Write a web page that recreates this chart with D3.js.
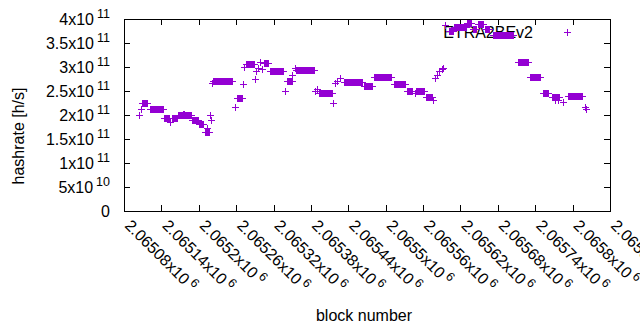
<!DOCTYPE html>
<html>
<head>
<meta charset="utf-8">
<script src="https://cdn.jsdelivr.net/npm/d3@7"></script>
<style>
  body { margin: 0; background: #fff; }
  text { font-family: "Liberation Sans", Arial, sans-serif; fill: #000; }
</style>
</head>
<body>
<svg id="chart"></svg>
<script>
const chartW = 640, chartH = 330;

// runs of blocks sharing one hashrate reading (start block, end block, hashrate)
var runStart = [2065104, 2065107, 2065109, 2065122, 2065144, 2065154, 2065157, 2065167, 2065175, 2065189,
  2065200, 2065210, 2065213, 2065218, 2065219, 2065221, 2065223, 2065258, 2065261, 2065271,
  2065273, 2065276, 2065290, 2065292, 2065295, 2065298, 2065301, 2065305, 2065314, 2065338,
  2065341, 2065350, 2065354, 2065356, 2065387, 2065389, 2065393, 2065416, 2065418, 2065422,
  2065427, 2065433, 2065465, 2065481, 2065513, 2065534, 2065547, 2065548, 2065564, 2065576,
  2065579, 2065582, 2065585, 2065590, 2065592, 2065595, 2065601, 2065609, 2065630, 2065640,
  2065648, 2065659, 2065672, 2065712, 2065731, 2065752, 2065767, 2065772, 2065777, 2065784,
  2065792, 2065820, 2065821];
var runEnd = [2065104, 2065107, 2065117, 2065143, 2065152, 2065154, 2065165, 2065187, 2065177, 2065199,
  2065207, 2065216, 2065214, 2065218, 2065219, 2065221, 2065253, 2065258, 2065269, 2065271,
  2065273, 2065289, 2065290, 2065292, 2065295, 2065298, 2065301, 2065311, 2065335, 2065338,
  2065349, 2065350, 2065354, 2065385, 2065387, 2065389, 2065414, 2065416, 2065418, 2065422,
  2065427, 2065462, 2065478, 2065508, 2065531, 2065542, 2065547, 2065561, 2065574, 2065576,
  2065579, 2065582, 2065585, 2065590, 2065592, 2065595, 2065608, 2065629, 2065637, 2065645,
  2065656, 2065666, 2065704, 2065728, 2065747, 2065760, 2065778, 2065772, 2065777, 2065784,
  2065815, 2065820, 2065821];
var runHashrate = [2.01e11, 2.13e11, 2.26e11, 2.12e11, 1.94e11, 1.85e11, 1.93e11, 2.01e11, 2.03e11, 1.89e11,
  1.82e11, 1.65e11, 1.72e11, 2.01e11, 1.89e11, 2.66e11, 2.70e11, 2.16e11, 2.35e11, 2.64e11,
  2.99e11, 3.06e11, 2.76e11, 2.92e11, 2.97e11, 3.10e11, 2.96e11, 3.08e11, 2.92e11, 2.50e11,
  2.71e11, 2.83e11, 2.98e11, 2.93e11, 2.50e11, 2.55e11, 2.45e11, 2.26e11, 2.66e11, 2.71e11,
  2.78e11, 2.68e11, 2.61e11, 2.79e11, 2.65e11, 2.51e11, 2.45e11, 2.49e11, 2.38e11, 2.31e11,
  2.78e11, 2.84e11, 2.92e11, 2.95e11, 2.97e11, 3.875e11, 3.75e11, 3.84e11, 3.91e11, 3.79e11,
  3.89e11, 3.80e11, 3.67e11, 3.10e11, 2.79e11, 2.45e11, 2.38e11, 2.32e11, 2.32e11, 2.27e11,
  2.40e11, 2.16e11, 2.12e11];

// tick labels (mantissa / exponent)
var xTickMant = ["2.06508", "2.06514", "2.0652", "2.06526", "2.06532", "2.06538", "2.06544",
  "2.0655", "2.06556", "2.06562", "2.06568", "2.06574", "2.0658", "2.06586"];
var xTickExp = "6";
var yTickMant = ["0", "5", "1", "1.5", "2", "2.5", "3", "3.5", "4"];
var yTickExp = ["", "10", "11", "11", "11", "11", "11", "11", "11"];

var seriesName = "ETRA2BEv2";
var color = "#9400d3";

// one point per block
var points = [];
runStart.forEach(function(s, i) {
  for (var b = s; b <= runEnd[i]; b++) points.push({block: b, value: runHashrate[i]});
});

var margin = {top: 19, right: 30, bottom: 119, left: 124},
    width = chartW - margin.left - margin.right,
    height = chartH - margin.top - margin.bottom;

var svg = d3.select("#chart")
  .attr("width", chartW)
  .attr("height", chartH);

var g = svg.append("g")
  .attr("transform", "translate(" + margin.left + "," + margin.top + ")");

var xTicks = xTickMant.map(function(m) { return Math.round(+m * 1e6); });
var yTicks = yTickMant.map(function(m, i) { return yTickExp[i] ? +m * Math.pow(10, +yTickExp[i]) : 0; });

var x = d3.scaleLinear()
  .domain([xTicks[0], xTicks[xTicks.length - 1]])
  .range([0, width]);
var y = d3.scaleLinear()
  .domain([0, 4e11])
  .range([height, 0]);

// ticks, mirrored on all four sides
function ticks(axis) {
  return function(sel) {
    sel.call(axis);
    sel.select(".domain").remove();
    sel.selectAll("line").attr("stroke", "#000").attr("shape-rendering", "crispEdges");
  };
}
g.append("g").attr("transform", "translate(0," + height + ")")
  .call(ticks(d3.axisBottom(x).tickValues(xTicks).tickSize(-6).tickFormat("")));
g.append("g")
  .call(ticks(d3.axisTop(x).tickValues(xTicks).tickSize(-6).tickFormat("")));
g.append("g")
  .call(ticks(d3.axisLeft(y).tickValues(yTicks).tickSize(-6).tickFormat("")));
g.append("g").attr("transform", "translate(" + width + ",0)")
  .call(ticks(d3.axisRight(y).tickValues(yTicks).tickSize(-6).tickFormat("")));

g.append("rect")
  .attr("width", width).attr("height", height)
  .attr("fill", "none").attr("stroke", "#000")
  .attr("shape-rendering", "crispEdges");

// y tick labels
var yl = g.append("g").selectAll("text")
  .data(yTicks)
  .enter().append("text")
    .attr("x", -14)
    .attr("y", function(d) { return y(d) + 5.5; })
    .attr("text-anchor", "end")
    .style("font-size", "16px");
yl.append("tspan").text(function(d, i) { return yTickExp[i] ? yTickMant[i] + "x10" : yTickMant[i]; });
yl.append("tspan")
  .attr("dx", 3).attr("dy", -7)
  .style("font-size", "12.5px")
  .text(function(d, i) { return yTickExp[i]; });

// x tick labels, rotated
var xl = g.append("g").selectAll("text")
  .data(xTicks)
  .enter().append("text")
    .attr("transform", function(d) { return "translate(" + x(d) + "," + (height + 15.5) + ")rotate(45)"; })
    .attr("text-anchor", "start")
    .style("font-size", "16px");
xl.append("tspan").text(function(d, i) { return xTickMant[i] + "x10"; });
xl.append("tspan")
  .attr("dx", 3).attr("dy", -6)
  .style("font-size", "12.5px")
  .text(xTickExp);

// axis titles
svg.append("text")
  .attr("transform", "translate(24,136)rotate(-90)")
  .attr("text-anchor", "middle")
  .style("font-size", "16px")
  .text("hashrate [h/s]");
svg.append("text")
  .attr("x", margin.left + width / 2 - 3)
  .attr("y", 321)
  .attr("text-anchor", "middle")
  .style("font-size", "16px")
  .text("block number");

// key
g.append("text")
  .attr("x", 409).attr("y", 18.5)
  .attr("text-anchor", "end")
  .style("font-size", "16px")
  .text(seriesName);
g.append("path")
  .attr("transform", "translate(443.5,13.5)")
  .attr("d", "M-3.5,0H3.5M0,-3.5V3.5")
  .attr("stroke", color).attr("fill", "none")
  .attr("shape-rendering", "crispEdges");

// points
g.append("g")
  .selectAll("path")
  .data(points)
  .enter().append("path")
    .attr("transform", function(d) { return "translate(" + (Math.round(x(d.block)) + 0.5) + "," + (Math.round(y(d.value)) + 0.5) + ")"; })
    .attr("d", "M-3.5,0H3.5M0,-3.5V3.5")
    .attr("stroke", color)
    .attr("fill", "none")
    .attr("shape-rendering", "crispEdges");
</script>
</body>
</html>
